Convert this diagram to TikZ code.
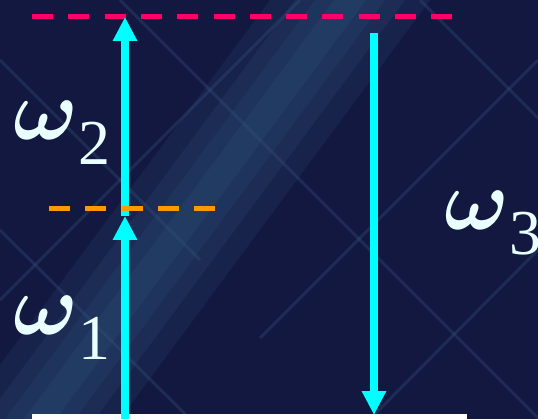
\documentclass[tikz,border=0pt]{standalone}
\usepackage{fontspec}
\setmainfont{Liberation Serif}
\usetikzlibrary{arrows.meta}

\definecolor{bgnavy}{HTML}{131840}
\definecolor{bandblue}{HTML}{3A7098}
\definecolor{gridblue}{HTML}{34507E}
\definecolor{transcyan}{HTML}{00FFFF}
\definecolor{toplvl}{HTML}{FF0066}
\definecolor{midlvl}{HTML}{FF9900}
\definecolor{labelwhite}{HTML}{EAFFFF}

\newcommand\om{{\fontsize{10}{10}\selectfont\boldmath\scalebox{8.6}{$\omega$}}}
\newcommand\lsub[1]{\raisebox{-25pt}{\fontsize{64}{64}\selectfont #1}}

\begin{document}
\begin{tikzpicture}[x=1pt, y=-1pt,
  lvl/.style={line width=5pt, dash pattern=on 21pt off 15.3pt},
  trans/.style={draw=transcyan, line width=8pt,
                -{Triangle[length=24pt, width=23pt]}},
  freq/.style={anchor=base west, inner sep=0pt, text=labelwhite}]
% background
\fill[bgnavy] (0,0) rectangle (538,419);
\useasboundingbox (0,0) rectangle (538,419);
\foreach \w in {80,55,35,16}
  \fill[bandblue, opacity=0.13] (350-\w,0) -- (350+\w,0) -- (40+\w,419) -- (40-\w,419) -- cycle;
\foreach \a/\b/\c/\d in {0/60/200/260, 120/0/538/418, 0/230/190/419, 300/0/0/300,
                         538/60/260/338, 420/0/538/118, 538/250/370/419}
  \draw[gridblue, line width=3pt, opacity=0.35] (\a,\b) -- (\c,\d);
% levels
\coordinate (top l) at (32,16.5);
\coordinate (top r) at (452,16.5);
\coordinate (mid l) at (49,209);
\coordinate (mid r) at (220,209);
\coordinate (base l) at (32,417);
\coordinate (base r) at (467,417);
% transitions
\coordinate (up0) at (125,419);
\coordinate (up1) at (125,216);
\coordinate (up2) at (125,17);
\coordinate (dn0) at (374,33);
\coordinate (dn1) at (374,415);
\draw[lvl, toplvl] (top l) -- (top r);
\draw[white, line width=6pt] (base l) -- (base r);
\draw[trans] (up0) -- (up1);
\draw[trans] (up1) -- (up2);
\draw[trans] (dn0) -- (dn1);
\draw[lvl, midlvl] (mid l) -- (mid r);
% labels
\node[freq] (w2) at (13,140) {\om\lsub{2}};
\node[freq] (w1) at (13,335) {\om\lsub{1}};
\node[freq] (w3) at (444,230) {\om\lsub{3}};
\end{tikzpicture}
\end{document}
